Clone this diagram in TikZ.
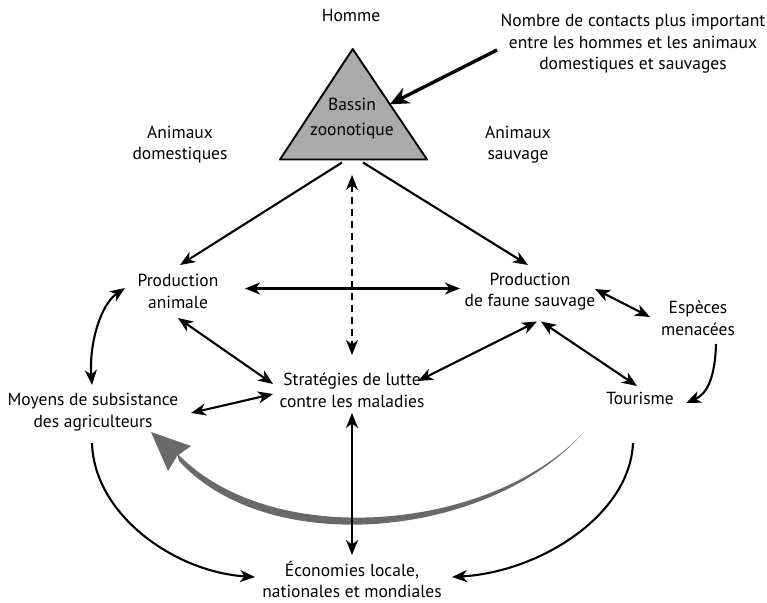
\documentclass[tikz,border=0pt]{standalone}
\usepackage{fontspec}
\setmainfont{PT Sans}
\usetikzlibrary{arrows.meta,calc}
\definecolor{triGray}{RGB}{170,170,170}
\definecolor{gArrow}{RGB}{105,105,105}
\begin{document}
\begin{tikzpicture}[x=1pt,y=-1pt,
  lbl/.style={align=center,inner sep=0pt,font=\fontsize{17.5}{21.5}\selectfont},
  tipA/.tip={Stealth[length=15pt,width=12pt,inset=4.5pt]},
  conn/.style={line width=2.1pt,-tipA},
  biconn/.style={line width=2.1pt,tipA-tipA},
  bigconn/.style={line width=3.4pt,-{Stealth[length=19pt,width=17pt,inset=6pt]}},
  dashconn/.style={line width=2.1pt,tipA-tipA,dash pattern=on 7pt off 5pt},
]
\useasboundingbox (0,0) rectangle (767,602);
\fill[white] (0,0) rectangle (767,602);

% triangle
\coordinate (tA) at (352.7,49);
\coordinate (tL) at (280,159.5);
\coordinate (tR) at (427,159.5);
\coordinate (tb) at (352,159.5);
\coordinate (te) at ($(tA)!0.5!(tR)$);
\filldraw[fill=triGray,line width=1.9pt,line join=round] (tA) -- (tL) -- (tR) -- cycle;

% labels
\node[lbl] (hom) at (351,15) {Homme};
\node[lbl] (nom) at (633,44) {Nombre de contacts plus important\\entre les hommes et les animaux\\domestiques et sauvages};
\node[lbl] (bz) at (352,118.5) {Bassin\\[3.5pt]zoonotique};
\node[lbl] (ad) at (180,144.5) {Animaux\\domestiques};
\node[lbl] (as) at (518,144.5) {Animaux\\sauvage};
\node[lbl] (pa) at (178,291.5) {Production\\animale};
\node[lbl] (pf) at (530,291.5) {Production\\de faune sauvage};
\node[lbl] (em) at (698,318.5) {Espèces\\menacées};
\node[lbl] (st) at (352,390.5) {Stratégies de lutte\\contre les maladies};
\node[lbl] (mo) at (93,412) {Moyens de subsistance\\des agriculteurs};
\node[lbl] (to) at (640,398) {Tourisme};
\node[lbl] (ec) at (352,579.5) {Économies locale,\\nationales et mondiales};

% gray tapered arrow
\fill[gArrow] (583,433) .. controls (490,532) and (270,551) .. (177,453)
  -- (179,461) .. controls (270,560) and (490,538) .. (583,433) -- cycle;
\fill[gArrow] (151,432) -- (191,446) -- (177,456) -- (168,471) -- cycle;

% connectors
\draw[bigconn] ([shift={(-136,6)}]nom.center) -- (te);
\draw[conn] ([shift={(-10,3)}]tb) -- ([shift={(2,-26.5)}]pa.center);
\draw[conn] ([shift={(11,3)}]tb) -- ([shift={(-2,-26.5)}]pf.center);
\draw[dashconn] ([shift={(0,15.5)}]tb) -- ([shift={(0,-35.5)}]st.center);
\draw[biconn] ([shift={(67,-3)}]pa.center) -- ([shift={(-70,-3)}]pf.center);
\draw[biconn] ([shift={(65,-2.5)}]pf.center) -- ([shift={(-48,-1.5)}]em.center);
\draw[biconn] ([shift={(0,26.5)}]pa.center) -- ([shift={(-79,-6.5)}]st.center);
\draw[biconn] ([shift={(7,30)}]pf.center) -- ([shift={(66,-9.5)}]st.center);
\draw[biconn] ([shift={(11,30)}]pf.center) -- ([shift={(-3,-12)}]to.center);
\draw[conn] ([shift={(18,25.5)}]em.center) .. controls (715,378) and (707,394) .. ([shift={(46,5)}]to.center);
\draw[biconn] ([shift={(-1,-27)}]mo.center) .. controls (89,345) and (100,305) .. ([shift={(-53,-3.5)}]pa.center);
\draw[biconn] ([shift={(98,1)}]mo.center) -- ([shift={(-79,3.5)}]st.center);
\draw[biconn] ([shift={(0,22.5)}]st.center) -- ([shift={(0,-24.5)}]ec.center);
\draw[conn] ([shift={(-1,31)}]mo.center) .. controls (94,515) and (175,572) .. ([shift={(-97,-2.5)}]ec.center);
\draw[conn] ([shift={(-7,45)}]to.center) .. controls (630,515) and (540,572) .. ([shift={(100,-2.5)}]ec.center);
\end{tikzpicture}
\end{document}
